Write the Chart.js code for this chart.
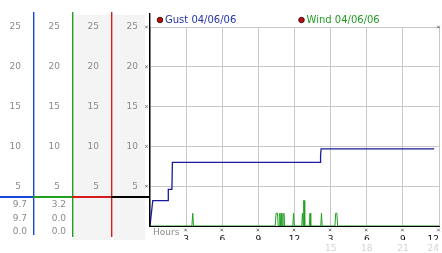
<!DOCTYPE html>
<html><head><meta charset="utf-8">
<script src="https://cdn.jsdelivr.net/npm/chart.js@4"></script>
<style>html,body{margin:0;padding:0;background:#fff;overflow:hidden}#wrap{width:442px;height:253px;position:relative}</style>
</head><body><div id="wrap"><canvas id="c" width="442" height="253"></canvas></div>
<script>
// ---- data ----
const gustHours  = [0, 0.07, 0.23, 1.50, 1.52, 1.82, 1.86, 14.12, 14.14, 14.19, 14.21, 23.6];
const gustValues = [0, 0,    3.2,  3.2,  4.6,  4.6,  8.0,  8.0,   8.9,   8.9,   9.7,   9.7];

const windHours  = [0, 3.48, 3.55, 3.62, 10.40, 10.47, 10.59, 10.65, 10.72, 10.78, 10.84, 10.90, 10.96, 11.06, 11.12, 11.18, 11.86, 11.92, 11.98, 12.60, 12.66, 12.72, 12.76, 12.80, 12.85, 13.23, 13.29, 13.35, 14.18, 14.24, 14.30, 15.36, 15.42, 15.52, 15.58, 24];
const windValues = [0, 0,    1.6,  0,    0,     1.6,   1.6,   0,     0,     1.6,   0,     1.6,   0,     0,     1.6,   0,     0,     1.6,   0,     0,     1.6,   0,     3.2,   3.2,   0,     0,     1.6,   0,     0,     1.6,   0,     0,     1.6,   1.6,   0,     0];

const hourTicks    = [0, 3, 6, 9, 12, 15, 18, 21, 24];
const hourLabels   = ['', '3', '6', '9', '12', '3', '6', '9', '12'];
const hour24Labels = ['', '', '', '', '', '15', '18', '21', '24'];
const yTickLabels  = ['', '5', '10', '15', '20', '25'];

const gustLegend = 'Gust 04/06/06';
const windLegend = 'Wind 04/06/06';
const gustStats = ['9.7', '9.7', '0.0'];
const windStats = ['3.2', '0.0', '0.0'];
const axisTitle = 'Hours';

// ---- chart ----
const FONT = 'DejaVu Sans';
Chart.defaults.font.family = FONT;
Chart.defaults.font.size = 9;

const toXY = (xs, ys) => xs.map((x, i) => ({x: x, y: ys[i]}));

function yAxis(weight, width, grid) {
  return {
    type: 'linear', position: 'left', weight: weight,
    min: 0, max: 25,
    afterFit: s => { s.width = width; },
    ticks: { stepSize: 5, padding: 12, color: '#8a8a8a', font: {size: 9},
      callback: (v) => yTickLabels[Math.round(v / 5)] },
    grid: grid ? { display: true, color: '#c8c8c8', drawTicks: false, tickLength: 0 } : { display: false, drawTicks: false, tickLength: 0 },
    border: { display: false }
  };
}

const BLUE = '#1448d8', GREEN = '#1fa01f', RED = '#d41a1a';

const decor = {
  id: 'decor',
  beforeDraw(chart) {
    const ctx = chart.ctx, s = chart.scales;
    ctx.save();
    ctx.fillStyle = '#f4f4f4';
    ctx.fillRect(s.yRed.left + 1, 15, s.yRed.right - s.yRed.left - 1, 225);
    ctx.fillRect(s.yBlack.left + 2, 15, s.yBlack.right - s.yBlack.left - 7, 225);
    ctx.restore();
  },
  afterDraw(chart) {
    const ctx = chart.ctx, s = chart.scales, ca = chart.chartArea;
    ctx.save();
    // panel divider lines
    const lines = [
      [s.yBlue.right, BLUE, 12, ca.bottom + 9],
      [s.yGreen.right, GREEN, 12, ca.bottom + 11],
      [s.yRed.right, RED, 12, ca.bottom + 11],
      [ca.left - 1, '#000000', 13, ca.bottom + 1]
    ];
    lines.forEach(([x, c, y0, y1]) => {
      ctx.fillStyle = c;
      ctx.fillRect(Math.round(x), y0, 1.4, y1 - y0);
    });
    // separator above stats
    const sy = ca.bottom - 30;
    ctx.fillStyle = BLUE; ctx.fillRect(0, sy, s.yBlue.right, 2);
    ctx.fillStyle = GREEN; ctx.fillRect(s.yGreen.left, sy, s.yGreen.right - s.yGreen.left, 2);
    ctx.fillStyle = RED; ctx.fillRect(s.yRed.left, sy, s.yRed.right - s.yRed.left, 2);
    ctx.fillStyle = '#000000'; ctx.fillRect(s.yBlack.left, sy, ca.left - s.yBlack.left, 2);
    // stats
    ctx.font = '9px ' + FONT; ctx.fillStyle = '#8a8a8a';
    ctx.textAlign = 'right'; ctx.textBaseline = 'middle';
    const rows = [ca.bottom - 21, ca.bottom - 7.5, ca.bottom + 6];
    gustStats.forEach((t, i) => ctx.fillText(t, s.yBlue.right - 6, rows[i]));
    windStats.forEach((t, i) => ctx.fillText(t, s.yGreen.right - 6, rows[i]));
    // axis title
    ctx.textAlign = 'left';
    ctx.fillText(axisTitle, ca.left + 3, ca.bottom + 6.5);
    // small tick crosses
    ctx.strokeStyle = '#555'; ctx.lineWidth = 0.8;
    const cross = (x, y) => { ctx.beginPath(); ctx.moveTo(x - 1.3, y - 1.3); ctx.lineTo(x + 1.3, y + 1.3); ctx.moveTo(x + 1.3, y - 1.3); ctx.lineTo(x - 1.3, y + 1.3); ctx.stroke(); };
    s.yBlack.ticks.forEach(t => { if (t.value > 0) cross(ca.left - 3.5, s.yBlack.getPixelForValue(t.value)); });
    hourTicks.forEach(h => { if (h > 0) cross(s.x.getPixelForValue(h) - 0.5, ca.bottom + 4); });
    cross(ca.right - 0.5, ca.top);
    // legend
    ctx.font = '10px ' + FONT; ctx.textBaseline = 'middle'; ctx.textAlign = 'left';
    const items = [[ca.left + 10, gustLegend, '#2433a8'], [ca.left + 151.5, windLegend, '#229a22']];
    items.forEach(([x, t, c]) => {
      ctx.beginPath(); ctx.arc(x, 20, 2.8, 0, Math.PI * 2);
      ctx.fillStyle = '#b01010'; ctx.fill();
      ctx.strokeStyle = '#300'; ctx.lineWidth = 0.8; ctx.stroke();
      ctx.fillStyle = c; ctx.fillText(t, x + 5, 20.5);
    });
    ctx.restore();
  }
};

new Chart(document.getElementById('c'), {
  type: 'line',
  data: {
    datasets: [
      { label: gustLegend, data: toXY(gustHours, gustValues), borderColor: '#1a1a9a', borderWidth: 1.3,
        pointRadius: 0, tension: 0, fill: false, yAxisID: 'yBlack', xAxisID: 'x' },
      { label: windLegend, data: toXY(windHours, windValues), borderColor: '#22a022', borderWidth: 1,
        pointRadius: 0, tension: 0, fill: false, yAxisID: 'yBlack', xAxisID: 'x' }
    ]
  },
  options: {
    responsive: false, animation: false, devicePixelRatio: 1,
    layout: { padding: { top: 27, right: 3, left: 0, bottom: 0 } },
    plugins: { legend: { display: false }, tooltip: { enabled: false } },
    scales: {
      x: {
        type: 'linear', position: 'bottom', weight: 0, min: 0, max: 24,
        afterBuildTicks: s => { s.ticks = hourTicks.map(v => ({value: v})); },
        afterFit: s => { s.height = 14; s.paddingLeft = 0; s.paddingRight = 0; },
        ticks: { autoSkip: false, maxRotation: 0, padding: 8, align: 'inner', color: '#111', font: {size: 9},
          callback: (v) => hourLabels[hourTicks.indexOf(v)] },
        grid: { color: '#c8c8c8', drawTicks: false, tickLength: 0 },
        border: { display: true, color: '#000', width: 1 }
      },
      x2: {
        type: 'linear', position: 'bottom', weight: 1, min: 0, max: 24,
        afterBuildTicks: s => { s.ticks = hourTicks.map(v => ({value: v})); },
        afterFit: s => { s.height = 13; s.paddingLeft = 0; s.paddingRight = 0; },
        ticks: { autoSkip: false, maxRotation: 0, padding: 3, align: 'inner', color: '#d4d4d4', font: {size: 9},
          callback: (v) => hour24Labels[hourTicks.indexOf(v)] },
        grid: { display: false, drawTicks: false, tickLength: 0 },
        border: { display: false }
      },
      yBlack: yAxis(0, 39, true),
      yRed: yAxis(1, 39, false),
      yGreen: yAxis(2, 39, false),
      yBlue: yAxis(3, 33, false)
    }
  },
  plugins: [decor]
});
</script>
</body></html>
